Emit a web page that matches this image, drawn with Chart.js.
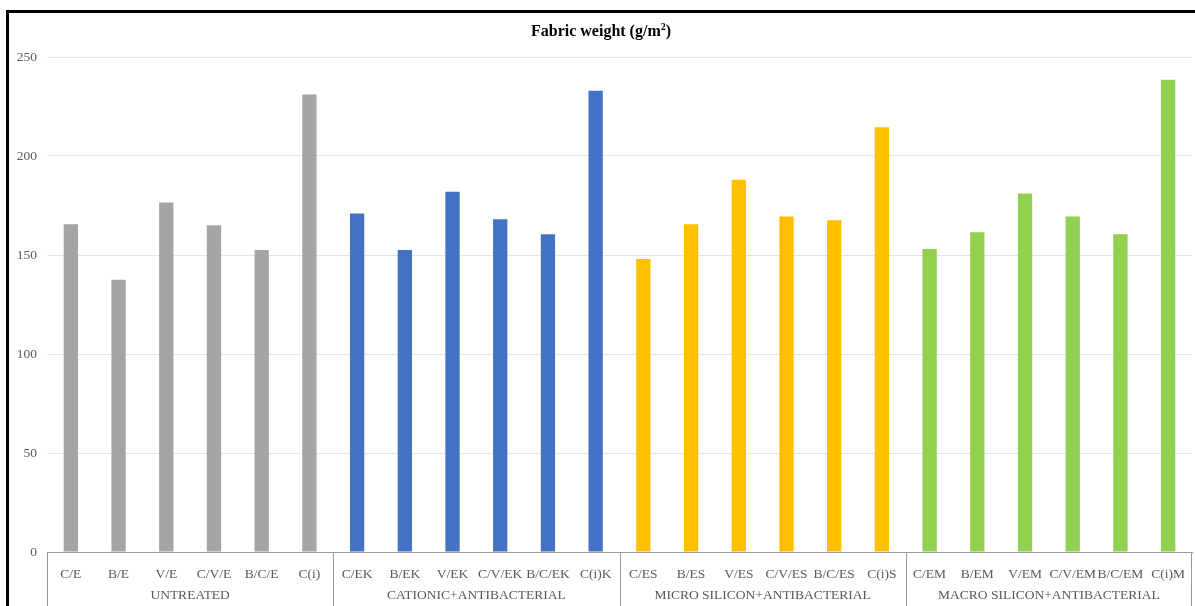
<!DOCTYPE html>
<html>
<head>
<meta charset="utf-8">
<script src="https://cdn.jsdelivr.net/npm/chart.js@4"></script>
<style>
  html, body { margin: 0; padding: 0; background: #fff; }
  #wrap { width: 1195px; height: 606px; position: relative; }
</style>
</head>
<body>
<div id="wrap"><canvas id="weightChart" width="1195" height="606"></canvas></div>
<script>
var labels = ['C/E', 'B/E', 'V/E', 'C/V/E', 'B/C/E', 'C(i)',
              'C/EK', 'B/EK', 'V/EK', 'C/V/EK', 'B/C/EK', 'C(i)K',
              'C/ES', 'B/ES', 'V/ES', 'C/V/ES', 'B/C/ES', 'C(i)S',
              'C/EM', 'B/EM', 'V/EM', 'C/V/EM', 'B/C/EM', 'C(i)M'];
var weights = [165.5, 137.5, 176.5, 165, 152.5, 231,
               171, 152.5, 182, 168, 160.5, 233,
               148, 165.5, 188, 169.5, 167.5, 214.5,
               153, 161.5, 181, 169.5, 160.5, 238.5];
var groups = ['UNTREATED', 'CATIONIC+ANTIBACTERIAL', 'MICRO SILICON+ANTIBACTERIAL', 'MACRO SILICON+ANTIBACTERIAL'];
var groupColors = ['#a5a5a5', '#4472c4', '#ffc000', '#92d050'];
var yTicks = [0, 50, 100, 150, 200, 250];

var perGroup = labels.length / groups.length;
var barColors = labels.map(function (l, i) { return groupColors[Math.floor(i / perGroup)]; });

var serif = '"Liberation Serif", "DejaVu Serif", serif';

// frame, title and the group labels under the axis
var extras = {
    id: 'extras',
    afterDraw: function (chart) {
        var c = chart.ctx;
        var area = chart.chartArea;
        var step = (area.right - area.left) / labels.length;
        c.save();

        // outer frame (only left and top visible)
        c.strokeStyle = '#000';
        c.lineWidth = 3;
        c.beginPath();
        c.moveTo(7.5, 606);
        c.lineTo(7.5, 11.5);
        c.lineTo(1195, 11.5);
        c.stroke();

        // title
        c.fillStyle = '#000';
        c.textBaseline = 'middle';
        c.textAlign = 'left';
        var t1 = 'Fabric weight (g/m';
        c.font = 'bold 16px ' + serif;
        var w1 = c.measureText(t1).width;
        var w3 = c.measureText(')').width;
        c.font = 'bold 10px ' + serif;
        var w2 = c.measureText('2').width;
        var x0 = 601 - (w1 + w2 + w3) / 2;
        c.font = 'bold 16px ' + serif;
        c.fillText(t1, x0, 32);
        c.fillText(')', x0 + w1 + w2, 32);
        c.font = 'bold 10px ' + serif;
        c.fillText('2', x0 + w1, 27);

        // group dividers
        c.strokeStyle = '#9a9a9a';
        c.lineWidth = 1;
        for (var g = 0; g <= groups.length; g++) {
            var gx = Math.round(area.left + g * perGroup * step) + 0.5;
            if (g === groups.length) gx = Math.round(area.right) - 0.5;
            c.beginPath();
            c.moveTo(gx, area.bottom);
            c.lineTo(gx, 606);
            c.stroke();
        }

        // group names
        c.fillStyle = '#595959';
        c.font = '13.5px ' + serif;
        c.textAlign = 'center';
        for (var k = 0; k < groups.length; k++) {
            var cx = area.left + (k + 0.5) * perGroup * step;
            c.fillText(groups[k], cx, 595);
        }
        c.restore();
    }
};

var ctx = document.getElementById('weightChart').getContext('2d');
var weightChart = new Chart(ctx, {
    type: 'bar',
    data: {
        labels: labels,
        datasets: [{
            label: 'Fabric weight',
            data: weights,
            backgroundColor: barColors,
            borderWidth: 0,
            categoryPercentage: 1.0,
            barPercentage: 0.3
        }]
    },
    options: {
        responsive: false,
        animation: false,
        layout: { padding: { top: 57, right: 3, left: 0, bottom: 0 } },
        plugins: {
            legend: { display: false },
            title: { display: false },
            tooltip: { enabled: false }
        },
        scales: {
            x: {
                grid: { display: false, drawTicks: false },
                border: { display: true, color: '#9a9a9a', width: 1 },
                ticks: {
                    autoSkip: false,
                    maxRotation: 0,
                    minRotation: 0,
                    padding: 14,
                    color: '#595959',
                    font: { family: serif, size: 13.5 }
                },
                afterFit: function (s) {
                    s.height = 54;
                    s.paddingLeft = 0;
                    s.paddingRight = 0;
                }
            },
            y: {
                min: 0,
                max: 250,
                afterBuildTicks: function (s) {
                    s.ticks = yTicks.map(function (v) { return { value: v }; });
                },
                grid: { color: '#e4e4e4', drawTicks: false },
                border: { display: false },
                ticks: {
                    padding: 10,
                    color: '#595959',
                    font: { family: serif, size: 13.5 }
                },
                afterFit: function (s) { s.width = 47; }
            }
        }
    },
    plugins: [extras]
});
</script>
</body>
</html>
